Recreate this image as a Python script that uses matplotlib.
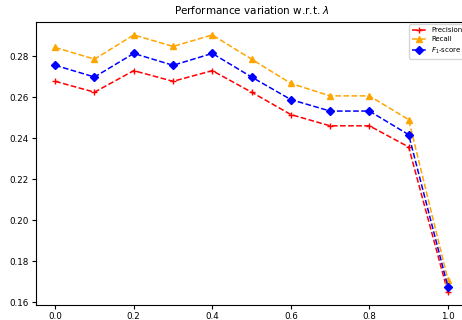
import matplotlib
matplotlib.use("Agg")
import matplotlib.pyplot as plt

lambdas = [0.0, 0.1, 0.2, 0.3, 0.4, 0.5, 0.6, 0.7, 0.8, 0.9, 1.0]
precision = [0.2677, 0.2624, 0.2729, 0.2677, 0.2729, 0.2624, 0.2515, 0.2460, 0.2460, 0.2357, 0.1648]
recall = [0.2842, 0.2785, 0.2903, 0.2847, 0.2903, 0.2785, 0.2667, 0.2606, 0.2606, 0.2490, 0.1710]
f1 = [0.2755, 0.2698, 0.2813, 0.2755, 0.2813, 0.2698, 0.2588, 0.2532, 0.2532, 0.2417, 0.1675]

fig = plt.figure(figsize=(4.62, 3.2), dpi=100)
ax = fig.add_axes([0.077, 0.046, 0.935, 0.885])

ax.plot(lambdas, precision, linestyle='--', color='red', marker='+', markersize=5, linewidth=1.1, label='Precision')
ax.plot(lambdas, recall, linestyle='--', color='orange', marker='^', markersize=4, linewidth=1.1, label='Recall')
ax.plot(lambdas, f1, linestyle='--', color='blue', marker='D', markersize=4, linewidth=1.1, label=r'$F_1$-score')

ax.set_yticks([0.16, 0.18, 0.20, 0.22, 0.24, 0.26, 0.28])
ax.tick_params(labelsize=6.3, length=3, pad=2)
ax.set_title(r'Performance variation w.r.t. $\lambda$', fontsize=7.5)
ax.legend(loc='upper right', fontsize=5, borderaxespad=0.3)

fig.savefig('out.png', dpi=100)
